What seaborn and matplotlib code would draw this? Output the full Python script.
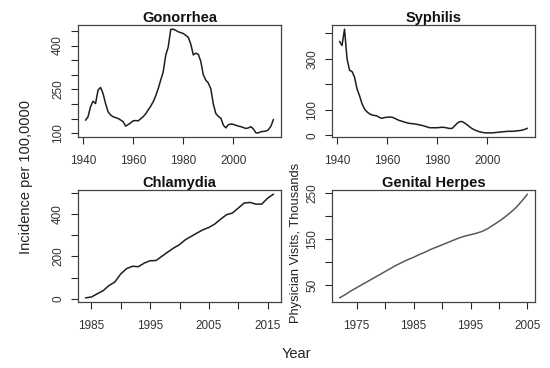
import matplotlib
matplotlib.use("Agg")
import matplotlib.pyplot as plt
import seaborn as sns
import numpy as np

# ---- data ----
gono_years = list(range(1941, 2017))
gono_rate = [145, 157, 191, 210, 202, 248, 257, 236, 202, 174,
             163, 157, 154, 151, 146, 140, 125, 130, 136, 143,
             144, 143, 150, 157, 167, 180, 193, 208, 228, 253,
             282, 310, 367, 395, 455, 456, 452, 447, 444, 441,
             435, 428, 405, 368, 374, 370, 346, 300, 282, 272,
             252, 200, 168, 158, 152, 128, 119, 130, 132, 131,
             128, 125, 123, 120, 117, 119, 123, 115, 102, 102,
             106, 107, 108, 113, 125, 148]

syph_years = list(range(1941, 2017))
syph_rate = [368, 352, 416, 300, 255, 250, 228, 181, 155, 123,
             103, 92, 84, 80, 78, 76, 70, 67, 70, 71,
             72, 71, 67, 62, 58, 55, 52, 49, 47, 46,
             45, 43, 41, 39, 36, 33, 30, 30, 30, 30,
             31, 32, 31, 29, 27, 28, 38, 48, 54, 54,
             48, 41, 33, 26, 21, 17, 14, 12, 10, 10,
             10, 10, 11, 12, 13, 14, 15, 16, 16, 16,
             17, 18, 19, 21, 24, 28]

chla_years = list(range(1984, 2017))
chla_rate = [5, 9, 24, 39, 63, 80, 118, 143, 154, 152, 169, 180, 181,
             201, 221, 240, 256, 279, 295, 311, 326, 337, 353, 376,
             397, 405, 428, 452, 455, 447, 447, 475, 494]

herp_years = list(range(1972, 2006))
herp_visits = [23, 30, 38, 45, 52, 59, 66, 73, 80, 87, 94, 100, 106,
               111, 117, 122, 128, 133, 138, 143, 148, 153, 157, 160,
               163, 167, 173, 181, 189, 198, 208, 219, 233, 248]

panels = [
    ("Gonorrhea", gono_years, gono_rate,
     [1940, 1960, 1980, 2000], [1940, 1960, 1980, 2000],
     list(range(100, 451, 50)), [100, 250, 400]),
    ("Syphilis", syph_years, syph_rate,
     [1940, 1960, 1980, 2000], [1940, 1960, 1980, 2000],
     [0, 100, 200, 300, 400], [0, 100, 300]),
    ("Chlamydia", chla_years, chla_rate,
     list(range(1985, 2016, 5)), [1985, 1995, 2005, 2015],
     list(range(0, 501, 100)), [0, 200, 400]),
    ("Genital Herpes", herp_years, herp_visits,
     list(range(1975, 2006, 5)), [1975, 1985, 1995, 2005],
     list(range(50, 251, 50)), [50, 150, 250]),
]

sns.set_theme(style="ticks")
plt.rcParams["font.family"] = ["Liberation Sans", "DejaVu Sans"]

W, H = 550, 368
fig = plt.figure(figsize=(W / 100, H / 100), dpi=100)

# box positions in pixels: (left, top, right, bottom)
boxes = [(78, 25, 281, 137), (332, 25, 535, 137),
         (78, 190, 281, 302), (332, 190, 535, 302)]

ink = "#2a2a2a"
for (title, xs, ys, xt, xl, yt, yl), (l, t, r, b) in zip(panels, boxes):
    ax = fig.add_axes([l / W, 1 - b / H, (r - l) / W, (b - t) / H])
    line_col = "#5a5a5a" if title == "Genital Herpes" else "#1e1e1e"
    sns.lineplot(x=xs, y=ys, ax=ax, color=line_col, linewidth=1.1)
    ax.margins(x=0.04, y=0.04)
    ax.set_xticks(xt)
    ax.set_xticklabels([str(v) if v in xl else "" for v in xt])
    ax.set_yticks(yt)
    ax.set_yticklabels([str(v) if v in yl else "" for v in yt])
    ax.tick_params(axis="both", length=5, width=0.8, color=ink,
                   labelsize=8.5, labelcolor="#333333")
    ax.tick_params(axis="x", pad=8)
    ax.tick_params(axis="y", pad=5, labelrotation=90)
    for lab in ax.get_yticklabels():
        lab.set_va("center")
    for sp in ax.spines.values():
        sp.set_visible(True)
        sp.set_color("#444444")
        sp.set_linewidth(0.9)
    ax.set_xlabel("")
    ax.set_ylabel("")
    ax.set_title(title, fontsize=10.5, fontweight="bold", pad=2, color="#111111")

fig.text(26 / W, 1 - 177 / H, "Incidence per 100,0000", rotation=90,
         ha="center", va="center", fontsize=10.5, color="#222222")
fig.text(296 / W, 1 - 243 / H, "Physician Visits, Thousands", rotation=90,
         ha="center", va="center", fontsize=9.3, color="#222222")
fig.text(296 / W, 1 - 354 / H, "Year", ha="center", va="center",
         fontsize=10.5, color="#222222")

fig.savefig("out.png", dpi=100, facecolor="white")
